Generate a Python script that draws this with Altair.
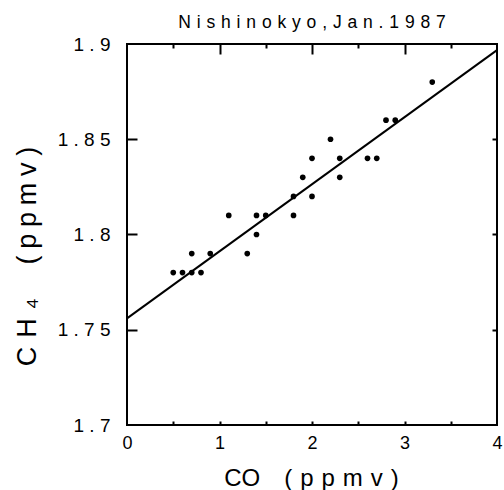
import altair as alt
import pandas as pd

# Data
co = [0.5, 0.6, 0.7, 0.8, 0.7, 0.9, 1.3, 1.4, 1.1, 1.4, 1.5, 1.8,
      1.8, 2.0, 1.9, 2.3, 2.0, 2.3, 2.6, 2.7, 2.2, 2.8, 2.9, 3.3]
ch4 = [1.78, 1.78, 1.78, 1.78, 1.79, 1.79, 1.79, 1.80, 1.81, 1.81, 1.81, 1.81,
       1.82, 1.82, 1.83, 1.83, 1.84, 1.84, 1.84, 1.84, 1.85, 1.86, 1.86, 1.88]
fit_co = [0.0, 4.0]
fit_ch4 = [1.756, 1.8968]

x_major = [0, 1, 2, 3, 4]
x_minor = [0.5, 1.5, 2.5, 3.5]
y_ticks = [1.7, 1.75, 1.8, 1.85, 1.9]

title_text = "Nishinokyo,Jan.1987"
x_title = "CO\u2003(\u2004p\u2004p\u2004m\u2004v\u2004)"
y_title = "C\u2004H\u2004\u2084\u2003\u2005(\u2005p\u2005p\u2005m\u2005v\u2005)"

FONT = "Liberation Sans"
W, H = 370, 381

pts = pd.DataFrame({"co": co, "ch4": ch4})
fit = pd.DataFrame({"co": fit_co, "ch4": fit_ch4})

xs = alt.Scale(domain=[0, 4], nice=False, zero=False)
ys = alt.Scale(domain=[1.7, 1.9], nice=False, zero=False)

def tick_axis(orient, offset, values, size):
    return alt.Axis(orient=orient, offset=offset, values=values, labels=False,
                    domain=False, grid=False, ticks=True, tickSize=size,
                    tickColor="black", tickWidth=2, title=None)

y_label_expr = "join(split(format(datum.value, '.2~f'), ''), ' ')"

points = alt.Chart(pts).mark_circle(size=32, color="black", opacity=1).encode(
    x=alt.X("co:Q", scale=xs, axis=alt.Axis(
        orient="bottom", values=x_major, ticks=False, tickSize=0, domain=False,
        grid=False, labelFontSize=18, labelFont=FONT, labelColor="black",
        labelPadding=9, labelFlush=False, labelOverlap=False, labelBound=False,
        title=x_title, titleFont=FONT, titleFontSize=24, titleFontWeight="normal",
        titleColor="black", titleX=184, titleY=53, titleBaseline="middle",
        titleAlign="center")),
    y=alt.Y("ch4:Q", scale=ys, axis=alt.Axis(
        orient="left", values=y_ticks, ticks=False, tickSize=0, domain=False,
        grid=False, labelFontSize=19, labelFont=FONT, labelColor="black",
        labelPadding=17, labelFlush=False, labelOverlap=False, labelBound=False,
        labelExpr=y_label_expr,
        title=y_title, titleFont=FONT, titleFontSize=27, titleFontWeight="normal",
        titleColor="black", titleAngle=-90, titleX=-100, titleY=212,
        titleBaseline="middle", titleAlign="center")),
)

line = alt.Chart(fit).mark_line(color="black", strokeWidth=2).encode(
    x=alt.X("co:Q", scale=xs, axis=tick_axis("top", -H, x_major[1:-1] + x_minor, 4)),
    y=alt.Y("ch4:Q", scale=ys, axis=tick_axis("right", -W, y_ticks[1:-1], 10)),
)

top_major = alt.Chart(pts).mark_circle(opacity=0).encode(
    x=alt.X("co:Q", scale=xs, axis=tick_axis("bottom", -H, x_major[1:-1], 10)),
    y=alt.Y("ch4:Q", scale=ys, axis=tick_axis("left", -W, y_ticks[1:-1], 5)),
)

top_minor = alt.Chart(pts).mark_circle(opacity=0).encode(
    x=alt.X("co:Q", scale=xs, axis=tick_axis("bottom", -H, x_minor, 4)),
    y=alt.Y("ch4:Q", scale=ys, axis=None),
)

chart = alt.layer(points, line, top_major, top_minor).resolve_axis(
    x="independent", y="independent"
).properties(
    width=W, height=H,
    title=alt.TitleParams("\u2004".join(title_text), font=FONT, fontSize=17.5,
                          fontWeight="normal", color="black", anchor="middle",
                          baseline="alphabetic", offset=-10),
    autosize=alt.AutoSizeParams(type="none"),
    padding={"left": 127, "top": 44, "right": 7, "bottom": 65},
).configure(background="white").configure_view(stroke="black", strokeWidth=2)

chart.save("out.html", embed_options={"renderer": "svg", "actions": False})
